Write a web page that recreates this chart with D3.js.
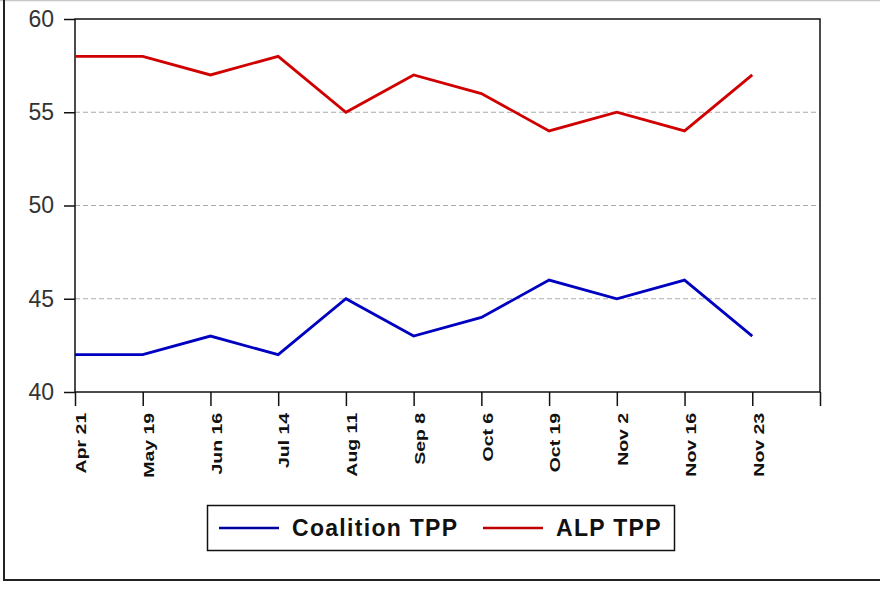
<!DOCTYPE html>
<html>
<head>
<meta charset="utf-8">
<script src="https://cdn.jsdelivr.net/npm/d3@7"></script>
<style>
  body { margin: 0; background: #fff; }
  svg { display: block; }
</style>
</head>
<body>
<div id="chart"></div>
<script>
const dates = ["Apr 21", "May 19", "Jun 16", "Jul 14", "Aug 11", "Sep 8", "Oct 6", "Oct 19", "Nov 2", "Nov 16", "Nov 23"];
const coalition = [42, 42, 43, 42, 45, 43, 44, 46, 45, 46, 43];
const alp = [58, 58, 57, 58, 55, 57, 56, 54, 55, 54, 57];
const yTicks = [40, 45, 50, 55, 60];
const gridValues = [45, 50, 55];

const W = 880, H = 589;
const plotLeft = 75, plotRight = 820, plotTop = 19, plotBottom = 392;

const svg = d3.select("#chart").append("svg")
  .attr("width", W)
  .attr("height", H);

// outer frame
svg.append("line").attr("x1", 0).attr("x2", W).attr("y1", 0.5).attr("y2", 0.5)
  .attr("stroke", "#c8c8c8").attr("stroke-width", 1.5);
svg.append("line").attr("x1", 4).attr("x2", 4).attr("y1", 0).attr("y2", 581)
  .attr("stroke", "#222").attr("stroke-width", 2);
svg.append("line").attr("x1", 3).attr("x2", W).attr("y1", 580).attr("y2", 580)
  .attr("stroke", "#222").attr("stroke-width", 2);

// x positions: one slot per date plus one extra at the right edge
const x = d3.scalePoint()
  .domain(d3.range(dates.length + 1))
  .range([plotLeft, plotRight]);

const y = d3.scaleLinear()
  .domain([40, 60])
  .range([plotBottom, plotTop]);

// grid
svg.append("g")
  .selectAll("line")
  .data(gridValues)
  .join("line")
  .attr("x1", plotLeft).attr("x2", plotRight)
  .attr("y1", d => y(d)).attr("y2", d => y(d))
  .attr("stroke", "#aaa")
  .attr("stroke-width", 1)
  .attr("stroke-dasharray", "5,3");

// y axis
const yAxis = svg.append("g")
  .attr("transform", `translate(${plotLeft},0)`)
  .call(d3.axisLeft(y).tickValues(yTicks).tickSize(11).tickPadding(10));
yAxis.select(".domain").remove();
yAxis.selectAll(".tick line").attr("stroke", "#111").attr("stroke-width", 1.5);
yAxis.selectAll(".tick text")
  .style("font-family", "Arial, 'Liberation Sans', sans-serif")
  .style("font-size", "23px")
  .attr("fill", "#333");

// x axis
const xAxis = svg.append("g")
  .attr("transform", `translate(0,${plotBottom})`)
  .call(d3.axisBottom(x).tickSize(14).tickFormat(i => dates[i] || ""));
xAxis.select(".domain").remove();
xAxis.selectAll(".tick line").attr("stroke", "#111").attr("stroke-width", 1.5);
xAxis.selectAll(".tick text")
  .style("font-family", "Arial, 'Liberation Sans', sans-serif")
  .style("font-size", "15px")
  .style("font-weight", "bold")
  .attr("fill", "#111")
  .attr("text-anchor", "end")
  .attr("transform", "rotate(-90) scale(1.3,1)")
  .attr("x", -16)
  .attr("y", 0)
  .attr("dy", "0.72em");

// plot frame
svg.append("rect")
  .attr("x", plotLeft).attr("y", plotTop)
  .attr("width", plotRight - plotLeft).attr("height", plotBottom - plotTop)
  .attr("fill", "none")
  .attr("stroke", "#111")
  .attr("stroke-width", 1.5);

const line = d3.line()
  .x((d, i) => x(i))
  .y(d => y(d));

svg.append("path")
  .datum(alp)
  .attr("fill", "none")
  .attr("stroke", "#d00000")
  .attr("stroke-width", 2.8)
  .attr("d", line);

svg.append("path")
  .datum(coalition)
  .attr("fill", "none")
  .attr("stroke", "#0000c0")
  .attr("stroke-width", 2.8)
  .attr("d", line);

// legend
const legend = svg.append("g");
legend.append("rect")
  .attr("x", 207.5).attr("y", 505.5)
  .attr("width", 467).attr("height", 45)
  .attr("fill", "#fff")
  .attr("stroke", "#111")
  .attr("stroke-width", 1.5);

const legendItems = [
  { name: "Coalition TPP", color: "#0000a0", x: 219 },
  { name: "ALP TPP", color: "#c00000", x: 483 }
];
legendItems.forEach(item => {
  legend.append("line")
    .attr("x1", item.x).attr("x2", item.x + 60)
    .attr("y1", 528).attr("y2", 528)
    .attr("stroke", item.color)
    .attr("stroke-width", 2.5);
  legend.append("text")
    .attr("x", item.x + 73)
    .attr("y", 528)
    .attr("dy", "0.36em")
    .text(item.name)
    .style("font-family", "Arial, 'Liberation Sans', sans-serif")
    .style("font-size", "23px")
    .style("font-weight", "bold")
    .style("letter-spacing", "1.3px")
    .attr("fill", "#111");
});
</script>
</body>
</html>
